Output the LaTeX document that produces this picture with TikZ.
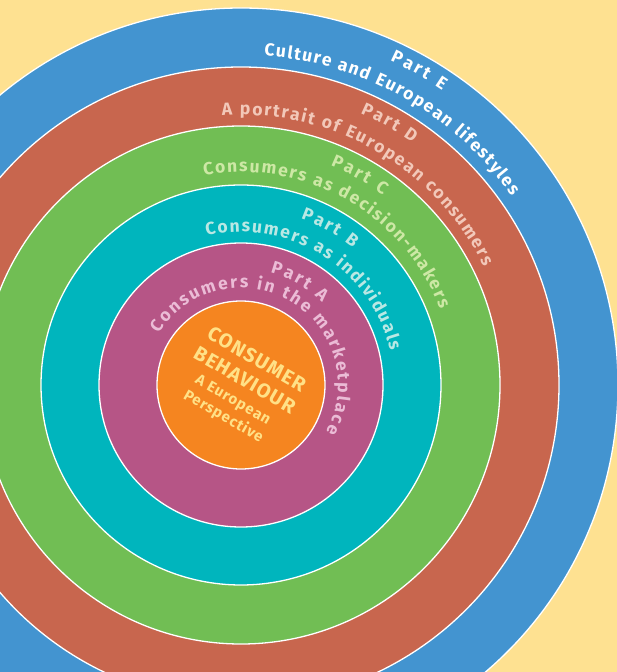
\documentclass[tikz,border=0pt]{standalone}
\usepackage{fontspec}
\setmainfont{Fira Sans}
\usetikzlibrary{decorations.text}
\definecolor{BookBack}{RGB}{254,225,145}
\definecolor{RingE}{RGB}{67,148,208}
\definecolor{RingD}{RGB}{200,102,78}
\definecolor{RingC}{RGB}{113,190,84}
\definecolor{RingB}{RGB}{0,181,189}
\definecolor{RingA}{RGB}{182,85,134}
\definecolor{CoreOrange}{RGB}{245,133,32}
\definecolor{TextE}{RGB}{255,255,255}
\definecolor{TextD}{RGB}{242,200,185}
\definecolor{TextC}{RGB}{205,232,165}
\definecolor{TextB}{RGB}{185,232,228}
\definecolor{TextA}{RGB}{235,188,214}
\definecolor{CoreText}{RGB}{255,225,135}
\newcommand{\ringfont}{\fontsize{17.5}{17.5}\selectfont\bfseries}
\tikzset{
  ring/.style={draw=white,line width=1.3pt},
  arctext/.style 2 args={decorate,decoration={text along path,text align={fit to path},text color=#1,text={|\ringfont|#2}}},
}

\begin{document}
\begin{tikzpicture}[x=1pt,y=1pt]
    \clip (-241,-287) rectangle (376,385);
    \fill[BookBack] (-241,-287) rectangle (376,385);
    % rings, outside in
    \foreach \r/\c in {377/RingE,318/RingD,259/RingC,200/RingB,142/RingA,84/CoreOrange}
      \draw[ring,fill=\c] (0,0) circle[radius=\r pt];
    % titles
    \path[arctext={TextA}{Consumers in the marketplace}] (148:97pt) arc[start angle=148,end angle=-29,radius=97pt];
    \path[arctext={TextB}{Consumers as individuals}] (103:153pt) arc[start angle=103,end angle=13,radius=153pt];
    \path[arctext={TextC}{Consumers as decision-makers}] (100:213pt) arc[start angle=100,end angle=21,radius=213pt];
    \path[arctext={TextD}{A portrait of European consumers}] (94:270pt) arc[start angle=94,end angle=26,radius=270pt];
    \path[arctext={TextE}{Culture and European lifestyles}] (86:330pt) arc[start angle=86,end angle=35,radius=330pt];
    % part labels
    \foreach \r/\c/\p in {116/TextA/A,177/TextB/B,237/TextC/C,297/TextD/D,357/TextE/E}
      \path[arctext={\c}{Part \p}] ({60.5+1719/\r}:\r pt) arc[start angle={60.5+1719/\r},end angle={60.5-1719/\r},radius=\r pt];
    \node[rotate=-30,align=center,text=CoreText,font=\bfseries\fontsize{20}{24}\selectfont] (core) at (-1,-3)
      {\addfontfeatures{LetterSpace=6}CONSUMER\\
       \addfontfeatures{LetterSpace=6}BEHAVIOUR\\[-3pt]
       \fontsize{15}{18}\selectfont\addfontfeatures{LetterSpace=6}A European\\[-5pt]
       \fontsize{15}{18}\selectfont\addfontfeatures{LetterSpace=6}Perspective};
\end{tikzpicture}
\end{document}
